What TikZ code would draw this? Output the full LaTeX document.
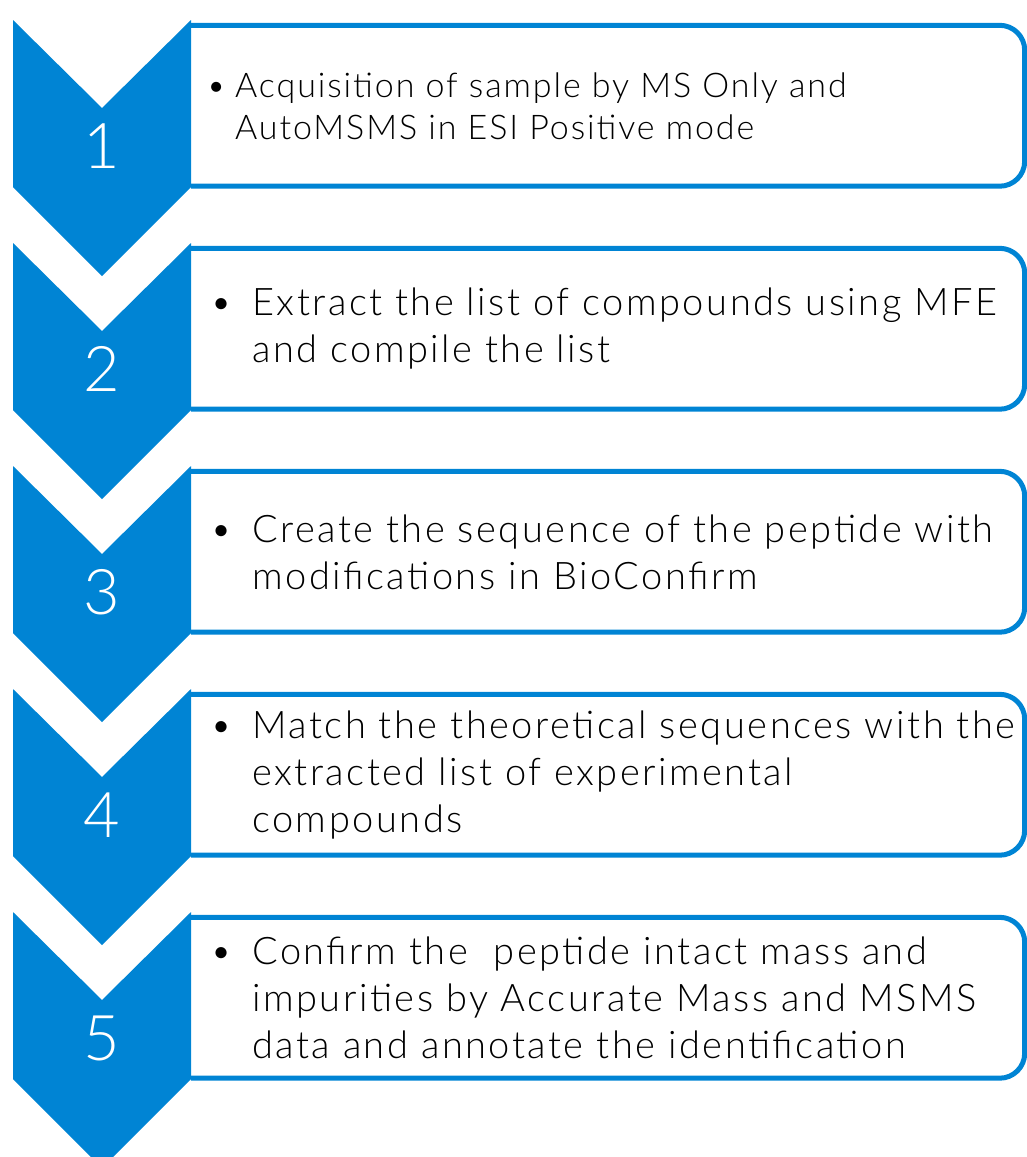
\documentclass[tikz,border=0pt]{standalone}
\usepackage{fontspec}
\IfFontExistsTF{Lato Light}{\setmainfont{Lato Light}}{\setmainfont{Lato}}
\definecolor{ablue}{RGB}{0,132,212}
\begin{document}
\begin{tikzpicture}[x=1pt,y=-1pt,
  boxst/.style={minimum width=833.5pt,minimum height=160.5pt,inner sep=0pt},
  edgest/.style={draw=ablue,line width=5pt,rounded corners=25pt},
  numst/.style={text=white,font=\fontsize{63}{70}\selectfont,inner sep=0pt},
  txtA/.style={anchor=west,align=left,inner sep=0pt,font=\fontsize{34}{42}\selectfont\addfontfeatures{LetterSpace=5.6}},
  txtB/.style={anchor=west,align=left,inner sep=0pt,font=\fontsize{38}{47}\selectfont\addfontfeatures{LetterSpace=6.6}}]
\useasboundingbox (0,0) rectangle (1027,1157);
\foreach \T/\i in {20/1,243/2,466/3,689/4,912/5}{
  \node[boxst] (b\i) at (607.75,\T+85.75) {};
  \draw[edgest] (b\i.north west) -- (b\i.north east) -- (b\i.south east) -- (b\i.south west);
  \fill[ablue] (13,\T) -- (102,\T+88) -- (191,\T) -- (191,\T+167)
     -- (102,\T+256) -- (13,\T+167) -- cycle;
  \node[numst] (n\i) at (102,\T+126) {\i};
}
\node[txtA] (t1) at (235,106) {\llap{•\hspace{9pt}}Acquisition of sample by MS Only and\\AutoMSMS in ESI Positive mode};
\node[txtB] (t2) at (252,329) {\llap{•\hspace{20pt}}Extract the list of compounds using MFE\\and compile the list};
\node[txtB] (t3) at (252,552) {\llap{•\hspace{20pt}}Create the sequence of the peptide with\\modifications in BioConfirm};
\node[txtB] (t4) at (252,775) {\llap{•\hspace{20pt}}Match the theoretical sequences with the\\extracted list of experimental\\compounds};
\node[txtB] (t5) at (252,998) {\llap{•\hspace{20pt}}Confirm the\ \ peptide intact mass and\\impurities by Accurate Mass and MSMS\\data and annotate the identification};
\end{tikzpicture}
\end{document}
